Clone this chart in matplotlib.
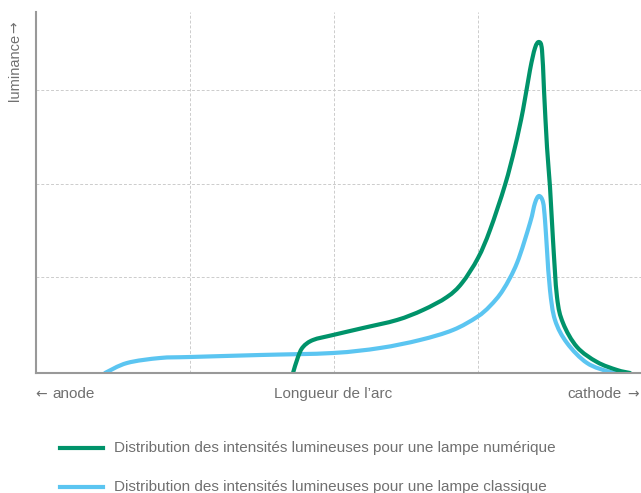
import numpy as np
import matplotlib.pyplot as plt
from matplotlib.lines import Line2D
from matplotlib.path import Path
from matplotlib.patches import PathPatch

# values (x: position along the arc, y: luminance), pixel-like units
num_x = [257, 262, 267, 277, 297, 327, 361, 387, 411, 426, 442, 454, 469, 479, 487, 494,
         499, 503, 506, 508, 511, 514, 517, 521, 527, 541, 561, 581, 594]
num_y = [0, 16, 26, 33, 38, 45, 53, 63, 76, 90, 115, 143, 188, 226, 263, 303,
         325, 331, 323, 283, 226, 186, 133, 76, 50, 26, 11, 3, 0]

cla_x = [69, 91, 124, 154, 224, 297, 344, 384, 417, 441, 454, 467, 481, 494, 499, 503,
         507, 509, 511, 514, 519, 531, 551, 574, 584]
cla_y = [0, 10, 15, 16, 18, 20, 25, 33, 43, 56, 67, 83, 110, 150, 170, 177,
         171, 153, 123, 83, 53, 30, 10, 1, 0]

labels = ["Distribution des intensités lumineuses pour une lampe numérique",
          "Distribution des intensités lumineuses pour une lampe classique"]

green = "#00936A"
blue = "#5BC5F1"
txt = "#707070"

plt.rcParams['font.family'] = ['Liberation Sans', 'DejaVu Sans']


def smooth_path(xs, ys):
    # catmull-rom through the read points, drawn as bezier segments
    p = np.column_stack([xs, ys]).astype(float)
    p = np.vstack([p[0], p, p[-1]])
    verts = [p[1]]
    codes = [Path.MOVETO]
    for i in range(1, len(p) - 2):
        c1 = p[i] + (p[i + 1] - p[i - 1]) / 6
        c2 = p[i + 1] - (p[i + 2] - p[i]) / 6
        verts += [c1, c2, p[i + 1]]
        codes += [Path.CURVE4] * 3
    return Path(verts, codes)


fig = plt.figure(figsize=(6.41, 4.93), dpi=100)
ax = fig.add_axes([36 / 641, 120 / 493, 605 / 641, 361 / 493])

for xs, ys, c in [(cla_x, cla_y, blue), (num_x, num_y, green)]:
    ax.add_patch(PathPatch(smooth_path(xs, ys), fill=False, edgecolor=c, lw=3,
                           capstyle='round', joinstyle='round'))

ax.set_xlim(0, 605)
ax.set_ylim(0, 361)
ax.set_xticks([154, 298, 442])
ax.set_yticks([96, 189, 283])
ax.set_xticklabels([])
ax.set_yticklabels([])
ax.tick_params(length=0)
ax.grid(True, ls=(0, (3, 2)), color="#cccccc", lw=0.7)
ax.set_axisbelow(True)

for s in ["top", "right"]:
    ax.spines[s].set_visible(False)
ax.spines["left"].set_color("#999999")
ax.spines["left"].set_linewidth(1.5)
ax.spines["bottom"].set_color("#999999")
ax.spines["bottom"].set_linewidth(1.5)

arrow_font = ['DejaVu Sans']
fig.text(15 / 641, 1 - 67 / 493, "luminance", rotation=90, ha="center", va="center",
         fontsize=10.5, color=txt)
fig.text(15 / 641, 1 - 27 / 493, "→", rotation=90, ha="center", va="center",
         fontsize=10, color=txt, family=arrow_font)
fig.text(41 / 641, 1 - 394 / 493, "←", ha="center", va="center", fontsize=10, color=txt,
         family=arrow_font)
fig.text(52 / 641, 1 - 394 / 493, "anode", ha="left", va="center", fontsize=11, color=txt)
fig.text(333 / 641, 1 - 394 / 493, "Longueur de l’arc", ha="center", va="center", fontsize=11, color=txt)
fig.text(622 / 641, 1 - 394 / 493, "cathode", ha="right", va="center", fontsize=11, color=txt)
fig.text(633 / 641, 1 - 394 / 493, "→", ha="center", va="center", fontsize=10, color=txt,
         family=arrow_font)

for i, (lab, c) in enumerate(zip(labels, [green, blue])):
    yy = 1 - (448 + 39 * i) / 493
    fig.add_artist(Line2D([60 / 641, 103 / 641], [yy, yy], color=c, lw=3, transform=fig.transFigure))
    fig.text(114 / 641, yy, lab, ha="left", va="center", fontsize=11, color=txt)

fig.savefig("out.png", dpi=100)
